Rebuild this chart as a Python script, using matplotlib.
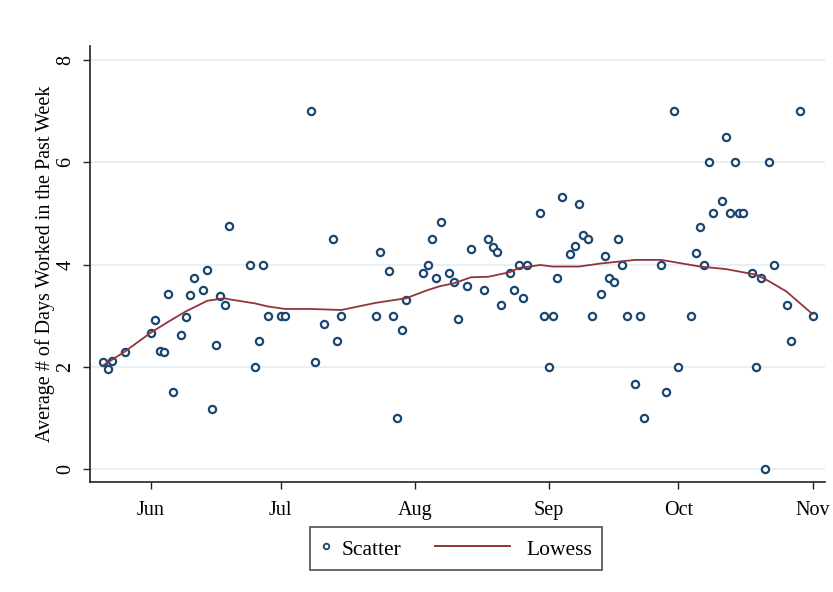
import numpy as np
import pandas as pd
import matplotlib
matplotlib.use("Agg")
import matplotlib.pyplot as plt
import matplotlib.dates as mdates
from matplotlib.lines import Line2D
from matplotlib.legend_handler import HandlerLine2D

plt.rcParams["font.family"] = ["Liberation Serif", "DejaVu Serif"]

# Daily averages of days worked in the past week
dates = [
    "2020-05-21", "2020-05-22", "2020-05-23", "2020-05-26",
    "2020-06-01", "2020-06-02", "2020-06-03", "2020-06-04", "2020-06-05", "2020-06-06",
    "2020-06-08", "2020-06-09", "2020-06-10", "2020-06-11", "2020-06-13", "2020-06-14",
    "2020-06-15", "2020-06-16", "2020-06-17", "2020-06-18", "2020-06-19", "2020-06-24",
    "2020-06-25", "2020-06-26", "2020-06-27", "2020-06-28",
    "2020-07-01", "2020-07-02", "2020-07-08", "2020-07-09", "2020-07-11", "2020-07-13",
    "2020-07-14", "2020-07-15", "2020-07-23", "2020-07-24", "2020-07-26", "2020-07-27",
    "2020-07-28", "2020-07-29", "2020-07-30",
    "2020-08-03", "2020-08-04", "2020-08-05", "2020-08-06", "2020-08-07", "2020-08-09",
    "2020-08-10", "2020-08-11", "2020-08-13", "2020-08-14", "2020-08-17", "2020-08-18",
    "2020-08-19", "2020-08-20", "2020-08-21", "2020-08-23", "2020-08-24", "2020-08-25",
    "2020-08-26", "2020-08-27", "2020-08-30", "2020-08-31",
    "2020-09-01", "2020-09-02", "2020-09-03", "2020-09-04", "2020-09-06", "2020-09-07",
    "2020-09-08", "2020-09-09", "2020-09-10", "2020-09-11", "2020-09-13", "2020-09-14",
    "2020-09-15", "2020-09-16", "2020-09-17", "2020-09-18", "2020-09-19", "2020-09-21",
    "2020-09-22", "2020-09-23", "2020-09-27", "2020-09-28", "2020-09-30",
    "2020-10-01", "2020-10-04", "2020-10-05", "2020-10-06", "2020-10-07", "2020-10-08",
    "2020-10-09", "2020-10-11", "2020-10-12", "2020-10-13", "2020-10-14", "2020-10-15",
    "2020-10-16", "2020-10-18", "2020-10-19", "2020-10-20", "2020-10-21", "2020-10-22",
    "2020-10-23", "2020-10-26", "2020-10-27", "2020-10-29",
    "2020-11-01",
]
avg_days = [
    2.09, 1.96, 2.11, 2.28,
    2.66, 2.92, 2.30, 2.28, 3.42, 1.50,
    2.63, 2.97, 3.40, 3.74, 3.50, 3.89,
    1.17, 2.43, 3.39, 3.20, 4.76, 4.00,
    2.00, 2.50, 4.00, 3.00,
    3.00, 3.00, 7.00, 2.10, 2.84, 4.50,
    2.50, 3.00, 3.00, 4.25, 3.88, 3.00,
    1.00, 2.72, 3.31,
    3.84, 4.00, 4.50, 3.74, 4.83, 3.84,
    3.65, 2.93, 3.57, 4.31, 3.50, 4.50,
    4.34, 4.25, 3.20, 3.83, 3.50, 4.00,
    3.34, 4.00, 5.00, 3.00,
    2.00, 3.00, 3.74, 5.33, 4.20, 4.36,
    5.19, 4.57, 4.49, 3.00, 3.42, 4.17,
    3.74, 3.66, 4.49, 4.00, 3.00, 1.66,
    3.00, 1.00, 4.00, 1.50, 7.00,
    2.00, 3.00, 4.22, 4.74, 4.00, 6.00,
    5.00, 5.25, 6.50, 5.00, 6.00, 5.00,
    5.00, 3.83, 2.00, 3.74, 0.00, 6.00,
    4.00, 3.20, 2.50, 7.00,
    3.00,
]

# Lowess fit (estimated on the underlying survey responses)
lowess_dates = [
    "2020-05-21", "2020-05-26", "2020-06-01", "2020-06-05", "2020-06-09", "2020-06-14",
    "2020-06-18", "2020-06-19", "2020-06-25", "2020-06-28", "2020-07-02", "2020-07-08",
    "2020-07-15", "2020-07-23", "2020-07-30", "2020-08-04", "2020-08-07", "2020-08-10",
    "2020-08-14", "2020-08-18", "2020-08-23", "2020-08-25", "2020-08-30", "2020-09-02",
    "2020-09-08", "2020-09-13", "2020-09-21", "2020-09-27", "2020-10-06", "2020-10-12",
    "2020-10-19", "2020-10-22", "2020-10-26", "2020-11-01",
]
lowess_vals = [
    2.03, 2.30, 2.67, 2.88, 3.08, 3.29,
    3.34, 3.32, 3.24, 3.18, 3.13, 3.13,
    3.11, 3.25, 3.34, 3.50, 3.58, 3.63,
    3.75, 3.76, 3.85, 3.93, 3.99, 3.96,
    3.96, 4.02, 4.09, 4.09, 3.96, 3.91,
    3.80, 3.67, 3.47, 3.03,
]

month_ticks = ["2020-06-01", "2020-07-01", "2020-08-01", "2020-09-01", "2020-10-01", "2020-11-01"]
y_ticks = [0, 2, 4, 6, 8]

NAVY = "#1a476f"
MAROON = "#90353b"
GRID = "#e9eff3"

x = mdates.date2num(pd.to_datetime(dates))
xl = mdates.date2num(pd.to_datetime(lowess_dates))

fig = plt.figure(figsize=(8.33, 5.92), dpi=100)
ax = fig.add_axes([90 / 833, 1 - 482 / 592, (825 - 90) / 833, (482 - 46) / 592])

ax.set_axisbelow(True)
ax.yaxis.grid(True, color=GRID, lw=1.5)
ax.xaxis.grid(False)

ax.plot(x, avg_days, "o", ms=5.2, mfc="white", mec=NAVY, mew=1.6, ls="none", zorder=3)
ax.plot(xl, lowess_vals, color=MAROON, lw=1.3, zorder=4)

jun1 = mdates.date2num(pd.Timestamp("2020-06-01"))
px_per_day = (812.5 - 151) / 153
ax.set_xlim(jun1 - (151 - 90) / px_per_day, jun1 + (825 - 151) / px_per_day)
ax.set_ylim(-(482 - 469) / 51.1, 8 + (60 - 46) / 51.1)

ax.set_xticks(mdates.date2num(pd.to_datetime(month_ticks)))
ax.xaxis.set_major_formatter(mdates.DateFormatter("%b"))
ax.set_yticks(y_ticks)

for s in ["top", "right"]:
    ax.spines[s].set_visible(False)
for s in ["left", "bottom"]:
    ax.spines[s].set_color("#222222")
    ax.spines[s].set_linewidth(1.2)

ax.tick_params(axis="both", direction="out", length=5, width=1, color="#222222",
               labelsize=14.5, labelcolor="black")
ax.tick_params(axis="x", pad=9)
ax.tick_params(axis="y", pad=5.5, labelrotation=90)
for lab in ax.get_yticklabels():
    lab.set_va("center")

ax.set_ylabel("Average # of Days Worked in the Past Week", fontsize=14.5, labelpad=1)


class LongLineHandler(HandlerLine2D):
    def create_artists(self, legend, orig_handle, xdescent, ydescent, width, height, fontsize, trans):
        yc = (height - ydescent) / 2.0
        line = Line2D([-xdescent - 49.9, -xdescent + 4.1], [yc, yc])
        self.update_prop(line, orig_handle, legend)
        line.set_transform(trans)
        return [line]


h_scatter = Line2D([], [], ls="none", marker="o", ms=4.0, mfc="white", mec=NAVY, mew=1.3)
h_lowess = Line2D([], [], color=MAROON, lw=1.4)
leg = fig.legend([h_scatter, h_lowess], ["Scatter", "Lowess"], ncol=2,
                 loc="center", bbox_to_anchor=(456 / 833, 1 - 548.5 / 592),
                 fontsize=15.5, frameon=True, fancybox=False, edgecolor="#222222",
                 handlelength=0.6, handleheight=1.15, handletextpad=0.45,
                 columnspacing=4.75, borderpad=0.45,
                 handler_map={h_lowess: LongLineHandler()})
leg.get_frame().set_linewidth(1.2)

fig.savefig("out.png", dpi=100, facecolor="white")
